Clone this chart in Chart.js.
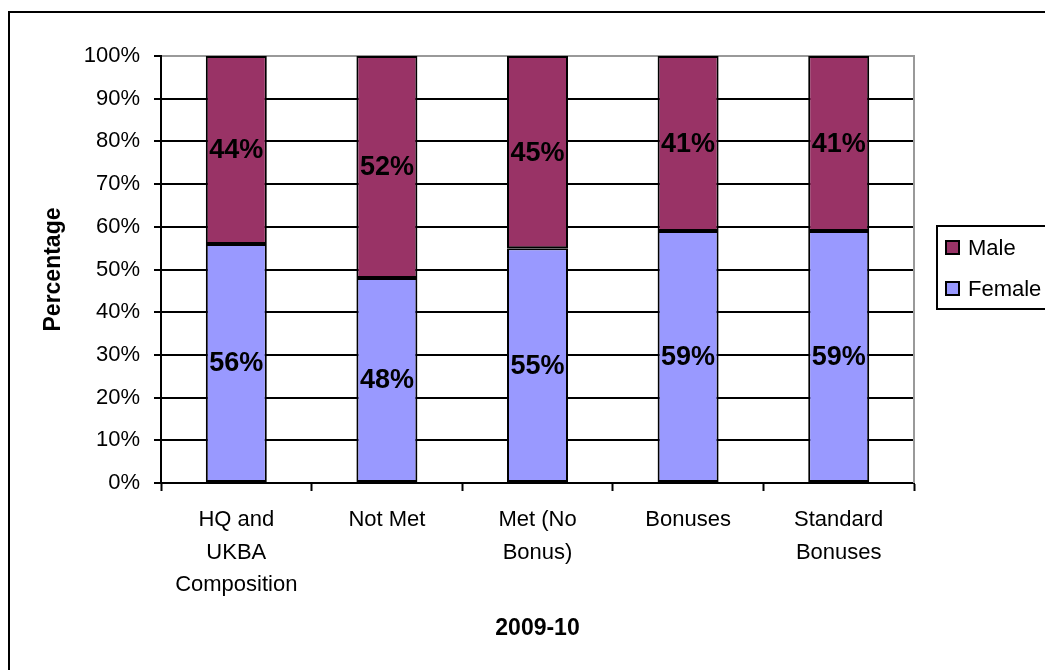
<!DOCTYPE html>
<html>
<head>
<meta charset="utf-8">
<script src="https://cdn.jsdelivr.net/npm/chart.js@4/dist/chart.umd.min.js"></script>
<style>
  html, body { margin: 0; padding: 0; background: #fff; overflow: hidden; }
  #wrap { width: 1045px; height: 670px; }
</style>
</head>
<body>
<div id="wrap"><canvas id="genderChart" width="1045" height="670"></canvas></div>
<script>
var categories = [
    ['HQ and', 'UKBA', 'Composition'],
    'Not Met',
    ['Met (No', 'Bonus)'],
    'Bonuses',
    ['Standard', 'Bonuses']
];
var femaleValues = [56, 48, 55, 59, 59];
var maleValues = [44, 52, 45, 41, 41];
var yTicks = [0, 10, 20, 30, 40, 50, 60, 70, 80, 90, 100];

var FONT = "'Liberation Sans', Arial, sans-serif";

// outer frame, right plot border
var framePlugin = {
    id: 'frame',
    beforeDraw: function (chart) {
        var ctx = chart.ctx;
        ctx.save();
        ctx.strokeStyle = '#000';
        ctx.lineWidth = 2;
        ctx.strokeRect(9, 12, 2000, 2000);
        ctx.restore();
    },
    beforeDatasetsDraw: function (chart) {
        var ctx = chart.ctx, a = chart.chartArea;
        ctx.save();
        ctx.strokeStyle = '#999';
        ctx.lineWidth = 2;
        ctx.beginPath();
        ctx.moveTo(a.right, a.top - 1);
        ctx.lineTo(a.right, a.bottom);
        ctx.stroke();
        ctx.restore();
    }
};

// percentage labels in the middle of each segment
var segLabels = {
    id: 'segLabels',
    afterDatasetsDraw: function (chart) {
        var ctx = chart.ctx;
        ctx.save();
        ctx.font = 'bold 27px ' + FONT;
        ctx.fillStyle = '#000';
        ctx.textAlign = 'center';
        ctx.textBaseline = 'middle';
        chart.data.datasets.forEach(function (ds, i) {
            chart.getDatasetMeta(i).data.forEach(function (bar, j) {
                ctx.fillText(ds.data[j] + '%', bar.x, (bar.y + bar.base) / 2 + 1);
            });
        });
        ctx.restore();
    }
};

// boxed legend, Male on top
var boxLegend = {
    id: 'boxLegend',
    afterDraw: function (chart) {
        var ctx = chart.ctx, a = chart.chartArea;
        var left = a.right + 23;
        var cy = (a.top + a.bottom) / 2 - 2;
        ctx.save();
        ctx.strokeStyle = '#000';
        ctx.lineWidth = 2;
        ctx.strokeRect(left, cy - 41.5, 300, 83);
        ctx.font = '22px ' + FONT;
        ctx.textBaseline = 'middle';
        var items = chart.data.datasets.slice().reverse();
        items.forEach(function (ds, k) {
            var y = cy - 20 + k * 41;
            ctx.fillStyle = ds.backgroundColor;
            ctx.fillRect(left + 9, y - 6.5, 13, 13);
            ctx.strokeRect(left + 9, y - 6.5, 13, 13);
            ctx.fillStyle = '#000';
            ctx.fillText(ds.label, left + 31, y + 1);
        });
        ctx.restore();
    }
};

var ctx = document.getElementById('genderChart').getContext('2d');
var chart = new Chart(ctx, {
    type: 'bar',
    data: {
        labels: categories,
        datasets: [{
            label: 'Female',
            data: femaleValues,
            backgroundColor: '#9999FF',
            borderColor: '#000',
            borderWidth: 2,
            borderSkipped: false,
            barPercentage: 0.405,
            categoryPercentage: 1
        }, {
            label: 'Male',
            data: maleValues,
            backgroundColor: '#993366',
            borderColor: '#000',
            borderWidth: 2,
            borderSkipped: false,
            barPercentage: 0.405,
            categoryPercentage: 1
        }]
    },
    options: {
        responsive: false,
        animation: false,
        layout: { padding: { top: 56, right: 131, left: 0, bottom: 0 } },
        plugins: {
            legend: { display: false },
            tooltip: { enabled: false }
        },
        scales: {
            x: {
                stacked: true,
                afterFit: function (s) { s.height = 187; },
                border: { color: '#000', width: 2 },
                grid: {
                    offset: true,
                    drawOnChartArea: false,
                    tickLength: 8,
                    tickColor: '#000',
                    tickWidth: 2
                },
                ticks: {
                    color: '#000',
                    padding: 13,
                    maxRotation: 0,
                    font: { family: FONT, size: 22, lineHeight: 1.47 }
                },
                title: {
                    display: true,
                    text: '2009-10',
                    color: '#000',
                    padding: { top: 0, bottom: 28 },
                    font: { family: FONT, size: 23, weight: 'bold', lineHeight: 1.2 }
                }
            },
            y: {
                stacked: true,
                min: 0,
                max: 100,
                afterFit: function (s) { s.width = 161; },
                afterBuildTicks: function (s) {
                    s.ticks = yTicks.map(function (v) { return { value: v }; });
                },
                border: { color: '#000', width: 2 },
                grid: {
                    color: function (c) { return c.tick && c.tick.value === 100 ? '#999' : '#000'; },
                    lineWidth: 2,
                    tickLength: 7,
                    tickColor: '#000'
                },
                ticks: {
                    color: '#000',
                    padding: 14,
                    font: { family: FONT, size: 22 },
                    callback: function (v) { return v + '%'; }
                },
                title: {
                    display: true,
                    text: 'Percentage',
                    color: '#000',
                    padding: { top: 40, bottom: 0 },
                    font: { family: FONT, size: 23, weight: 'bold', lineHeight: 1.2 }
                }
            }
        }
    },
    plugins: [framePlugin, segLabels, boxLegend]
});
</script>
</body>
</html>
